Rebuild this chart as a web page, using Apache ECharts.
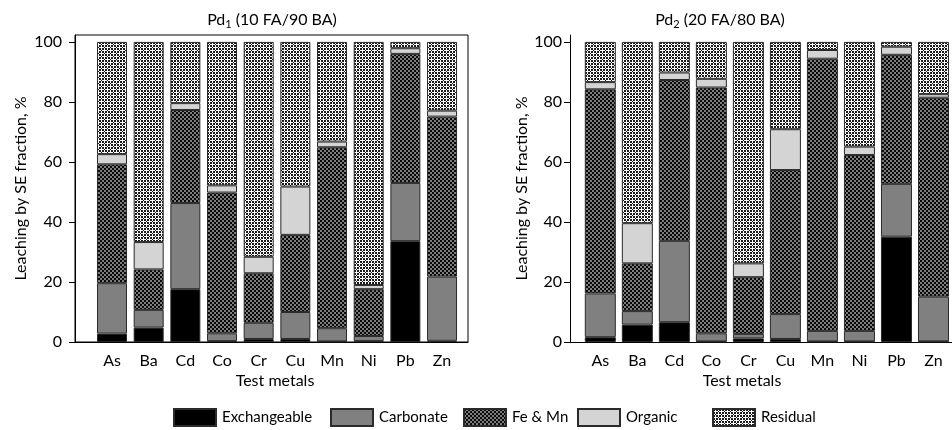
<!DOCTYPE html>
<html>
<head>
<meta charset="utf-8">
<script src="https://cdn.jsdelivr.net/npm/echarts@6/dist/echarts.min.js"></script>
<style>
html, body { margin: 0; padding: 0; background: #fff; }
#chart { width: 952px; height: 430px; }
</style>
</head>
<body>
<div id="chart"></div>
<script>
// Categories and tick labels
const metals = ['As', 'Ba', 'Cd', 'Co', 'Cr', 'Cu', 'Mn', 'Ni', 'Pb', 'Zn'];
const fractions = ['Exchangeable', 'Carbonate', 'Fe & Mn', 'Organic', 'Residual'];
const yTicks = [0, 20, 40, 60, 80, 100];

// Pd1 (10 FA/90 BA) — share of each SE fraction, %
const pd1Exchangeable = [2.8, 4.8, 17.6, 0.3, 1.0, 1.0, 0.2, 0.3, 33.6, 0.4];
const pd1Carbonate    = [16.8, 5.9, 28.7, 2.6, 5.4, 9.0, 4.4, 1.7, 19.4, 21.4];
const pd1FeMn         = [39.6, 13.5, 31.0, 46.9, 16.5, 25.7, 60.3, 15.6, 43.0, 53.3];
const pd1Organic      = [3.4, 9.1, 2.3, 2.4, 5.5, 16.1, 1.9, 1.4, 1.9, 2.0];
const pd1Residual     = [37.4, 66.7, 20.4, 47.8, 71.6, 48.2, 33.2, 81.0, 2.1, 22.9];

// Pd2 (20 FA/80 BA)
const pd2Exchangeable = [1.6, 5.8, 6.6, 0.2, 1.2, 1.0, 0.2, 0.2, 35.1, 0.2];
const pd2Carbonate    = [14.6, 4.5, 27.1, 2.7, 1.5, 8.3, 3.5, 3.5, 17.6, 14.9];
const pd2FeMn         = [68.0, 15.9, 53.6, 81.9, 18.9, 48.0, 90.7, 58.6, 43.0, 66.3];
const pd2Organic      = [2.4, 13.4, 2.5, 2.9, 4.6, 13.6, 2.9, 2.8, 2.7, 1.2];
const pd2Residual     = [13.4, 60.4, 10.2, 12.3, 73.8, 29.1, 2.7, 34.9, 1.6, 17.4];

const FONT = 'Lato';
const Y_MAX = 102.3;

// Small bitmap tiles used as fill patterns
function makeTile(size, shade) {
  const c = document.createElement('canvas');
  c.width = size; c.height = size;
  const ctx = c.getContext('2d');
  const img = ctx.createImageData(size, size);
  for (let y = 0; y < size; y++) {
    for (let x = 0; x < size; x++) {
      const v = shade(x, y);
      const k = (y * size + x) * 4;
      img.data[k] = v; img.data[k + 1] = v; img.data[k + 2] = v; img.data[k + 3] = 255;
    }
  }
  ctx.putImageData(img, 0, 0);
  return c;
}
// Fe & Mn: fine dark checker
const feMnTile = makeTile(4, (x, y) => (((x >> 1) + (y >> 1)) & 1) ? 125 : 10);
// Residual: white crosses (arm length 2) on a dark net, two per tile
const residualTile = makeTile(6, (x, y) => {
  const inCross = (cx, cy) => {
    const dx = (x - cx + 6) % 6, dy = (y - cy + 6) % 6;
    const ax = Math.min(dx, 6 - dx), ay = Math.min(dy, 6 - dy);
    return (ax === 0 && ay <= 2) || (ay === 0 && ax <= 2);
  };
  return (inCross(2, 2) || inCross(5, 5)) ? 255 : 25;
});

const fills = [
  '#000000',
  '#808080',
  { image: feMnTile, repeat: 'repeat' },
  '#d4d4d4',
  { image: residualTile, repeat: 'repeat' }
];

// Grid 0/2 hold the bars, grid 1/3 carry the visible frame and value axes
const panels = [
  { values: [pd1Exchangeable, pd1Carbonate, pd1FeMn, pd1Organic, pd1Residual], barWidth: 30,
    dataGrid: { left: 93.67, width: 366.7 }, frameGrid: { left: 75, width: 393 } },
  { values: [pd2Exchangeable, pd2Carbonate, pd2FeMn, pd2Organic, pd2Residual], barWidth: 31,
    dataGrid: { left: 581.8, width: 374 }, frameGrid: { left: 570, width: 400 } }
];

const grids = [], xAxes = [], yAxes = [], series = [];
const axisText = { color: '#000', fontFamily: FONT, fontSize: 16 };

panels.forEach((p, pi) => {
  const dg = grids.length;
  grids.push({ left: p.dataGrid.left, width: p.dataGrid.width, top: 35, height: 307 });
  xAxes.push({
    type: 'category', gridIndex: dg, data: metals,
    axisLine: { show: false }, axisTick: { show: false },
    axisLabel: Object.assign({ margin: 11, interval: 0 }, axisText)
  });
  yAxes.push({ type: 'value', gridIndex: dg, min: 0, max: Y_MAX, show: false, splitLine: { show: false } });

  const fg = grids.length;
  grids.push(Object.assign({ left: p.frameGrid.left, width: p.frameGrid.width, top: 35, height: 307 },
    pi === 0 ? { show: true, borderColor: '#000', borderWidth: 1 } : {}));
  xAxes.push({
    type: 'value', gridIndex: fg, min: 0, max: 1,
    axisLine: { show: true, lineStyle: { color: '#000', width: 1 } },
    axisTick: { show: false }, axisLabel: { show: false }, splitLine: { show: false }
  });
  yAxes.push({
    type: 'value', gridIndex: fg, min: 0, max: Y_MAX,
    splitLine: { show: false },
    axisLine: { show: true, lineStyle: { color: '#000', width: 1 } },
    axisTick: { show: true, length: 6, customValues: yTicks, lineStyle: { color: '#000' } },
    axisLabel: Object.assign({ customValues: yTicks, margin: pi === 0 ? 13 : 8 }, axisText),
    name: 'Leaching by SE fraction, %', nameLocation: 'middle', nameGap: pi === 0 ? 46 : 40, nameRotate: 90,
    nameTextStyle: axisText
  });

  p.values.forEach((vals, fi) => {
    series.push({
      type: 'bar',
      name: fractions[fi],
      xAxisIndex: dg,
      yAxisIndex: dg,
      stack: 'panel' + pi,
      barWidth: p.barWidth,
      data: vals,
      itemStyle: { color: fills[fi], borderColor: '#2a2a2a', borderWidth: 1 },
      emphasis: { disabled: true },
      silent: true
    });
  });
});

const titleRich = {
  n: { fontFamily: FONT, fontSize: 16, fontWeight: 'normal', color: '#000' },
  s: { fontFamily: FONT, fontSize: 11, fontWeight: 'normal', color: '#000', padding: [10, 0, 0, 0] }
};
const plainText = { fontFamily: FONT, fontSize: 16, fontWeight: 'normal', color: '#000' };

// One legend per fraction so each swatch sits at its own slot
const legendSlots = [173, 330, 463, 577, 712];
const legends = fractions.map((f, i) => ({
  data: [{ name: f, icon: 'rect' }], left: legendSlots[i], top: 408, padding: 0,
  itemWidth: 42, itemHeight: 17, itemGap: 0, selectedMode: false,
  textStyle: { color: '#000', fontFamily: FONT, fontSize: 15, padding: [0, 0, 0, 1] }
}));

const option = {
  animation: false,
  backgroundColor: '#fff',
  title: [
    { text: '{n|Pd}{s|1}{n| (10 FA/90 BA)}', left: 272, top: 9, textAlign: 'center',
      textStyle: { rich: titleRich }, padding: 0 },
    { text: '{n|Pd}{s|2}{n| (20 FA/80 BA)}', left: 720, top: 9, textAlign: 'center',
      textStyle: { rich: titleRich }, padding: 0 },
    { text: 'Test metals', left: 275, top: 373, textAlign: 'center', textStyle: plainText, padding: 0 },
    { text: 'Test metals', left: 742, top: 373, textAlign: 'center', textStyle: plainText, padding: 0 }
  ],
  grid: grids,
  xAxis: xAxes,
  yAxis: yAxes,
  legend: legends,
  series: series
};

const chart = echarts.init(document.getElementById('chart'), null, { renderer: 'canvas' });
chart.setOption(option);
</script>
</body>
</html>
